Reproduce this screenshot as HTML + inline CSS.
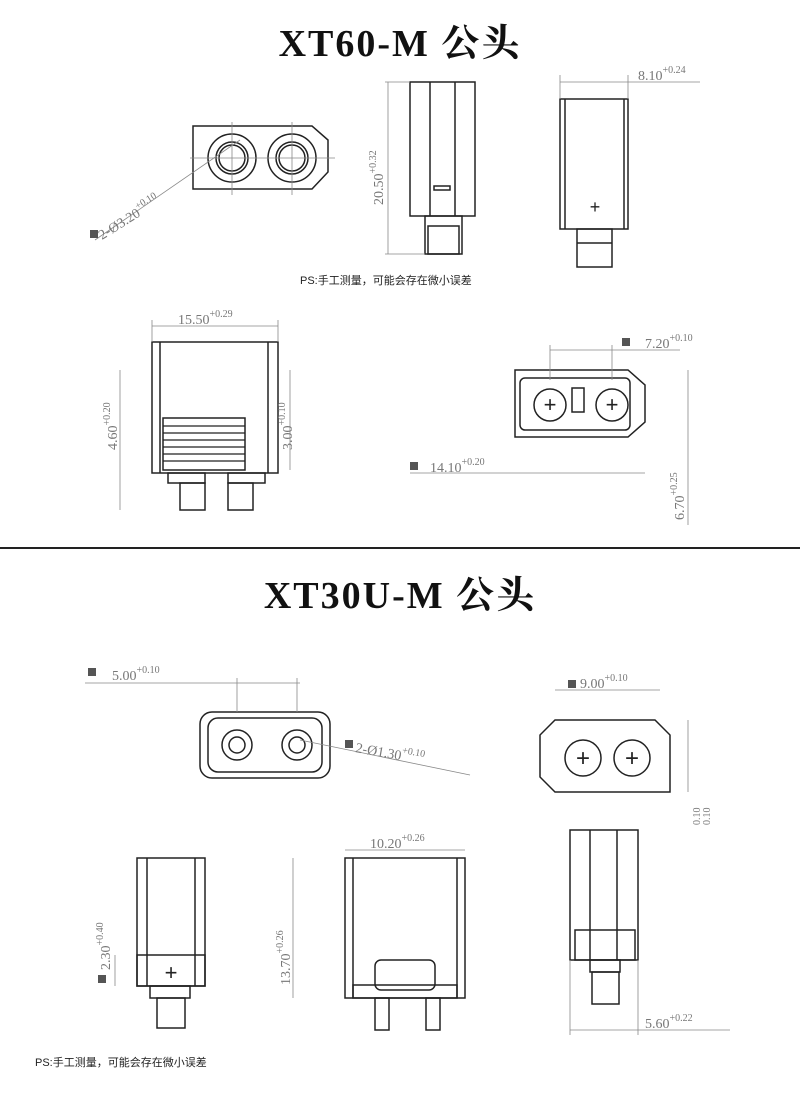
<!DOCTYPE html>
<html><head><meta charset="utf-8"><style>
body{margin:0;background:#fff}
svg{display:block}
.t{font-family:"Liberation Serif","Noto Serif CJK SC",serif;font-weight:bold;font-size:38px;fill:#111;letter-spacing:2px}
.d{font-family:"Liberation Serif",serif;font-size:14px;fill:#777}
.s{font-family:"Liberation Serif",serif;font-size:10px;fill:#777}
.ps{font-family:"Liberation Sans","Noto Sans CJK SC",sans-serif;font-size:11px;fill:#222}
.k{fill:none;stroke:#222;stroke-width:1.5}
.g{fill:none;stroke:#888;stroke-width:0.8}
</style></head><body>
<svg width="800" height="1099" viewBox="0 0 800 1099">
<text class="t" x="400" y="56" text-anchor="middle">XT60-M 公头</text>
<!-- front view 1 -->
<path class="k" d="M193,126 H312 L328,140 V172 L312,189 H193 Z"/>
<circle class="k" cx="232" cy="158" r="24"/><circle class="k" cx="232" cy="158" r="16"/><circle class="k" cx="232" cy="158" r="13"/>
<circle class="k" cx="292" cy="158" r="24"/><circle class="k" cx="292" cy="158" r="16"/><circle class="k" cx="292" cy="158" r="13"/>
<line class="g" x1="190" y1="158" x2="335" y2="158"/><line class="g" x1="232" y1="122" x2="232" y2="195"/><line class="g" x1="292" y1="122" x2="292" y2="195"/>
<line class="g" x1="95" y1="240" x2="240" y2="140"/>
<rect x="90" y="230" width="8" height="8" fill="#555"/>
<text class="d" transform="translate(102,240) rotate(-32)">2-Ø3.20<tspan class="s" dy="-7">+0.10</tspan></text>
<!-- side view -->
<rect class="k" x="410" y="82" width="65" height="134"/><line class="k" x1="430" y1="82" x2="430" y2="216"/><line class="k" x1="455" y1="82" x2="455" y2="216"/>
<rect class="k" x="434" y="186" width="16" height="4"/>
<rect class="k" x="425" y="216" width="37" height="38"/><rect class="k" x="428" y="226" width="31" height="28"/>
<line class="g" x1="388" y1="82" x2="388" y2="254"/><line class="g" x1="385" y1="82" x2="410" y2="82"/><line class="g" x1="385" y1="254" x2="425" y2="254"/>
<text class="d" transform="translate(383,205) rotate(-90)">20.50<tspan class="s" dy="-7">+0.32</tspan></text>
<!-- right view -->
<rect class="k" x="560" y="99" width="68" height="130"/><line class="k" x1="565" y1="99" x2="565" y2="229"/><line class="k" x1="624" y1="99" x2="624" y2="229"/>
<text x="595" y="213" font-size="18" text-anchor="middle" fill="#222" font-family="Liberation Sans">+</text>
<rect class="k" x="577" y="229" width="35" height="38"/><line class="k" x1="577" y1="243" x2="612" y2="243"/>
<line class="g" x1="560" y1="82" x2="700" y2="82"/><line class="g" x1="560" y1="75" x2="560" y2="99"/><line class="g" x1="628" y1="75" x2="628" y2="99"/>
<text class="d" x="638" y="80">8.10<tspan class="s" dy="-7">+0.24</tspan></text>
<text class="ps" x="300" y="284">PS:手工测量，可能会存在微小误差</text>
<!-- bottom left body -->
<rect class="k" x="152" y="342" width="126" height="131"/><line class="k" x1="160" y1="342" x2="160" y2="473"/><line class="k" x1="268" y1="342" x2="268" y2="473"/>
<rect class="k" x="163" y="418" width="82" height="52"/>
<g stroke="#222" stroke-width="1.3"><line x1="163" y1="426" x2="245" y2="426"/><line x1="163" y1="433" x2="245" y2="433"/><line x1="163" y1="440" x2="245" y2="440"/><line x1="163" y1="447" x2="245" y2="447"/><line x1="163" y1="454" x2="245" y2="454"/><line x1="163" y1="461" x2="245" y2="461"/></g>
<rect class="k" x="168" y="473" width="37" height="10"/><rect class="k" x="180" y="483" width="25" height="27"/>
<rect class="k" x="228" y="473" width="37" height="10"/><rect class="k" x="228" y="483" width="25" height="27"/>
<line class="g" x1="152" y1="326" x2="278" y2="326"/><line class="g" x1="152" y1="320" x2="152" y2="342"/><line class="g" x1="278" y1="320" x2="278" y2="342"/>
<text class="d" x="178" y="324">15.50<tspan class="s" dy="-7">+0.29</tspan></text>
<line class="g" x1="120" y1="370" x2="120" y2="510"/><text class="d" transform="translate(117,450) rotate(-90)">4.60<tspan class="s" dy="-7">+0.20</tspan></text>
<line class="g" x1="290" y1="370" x2="290" y2="470"/><text class="d" transform="translate(292,450) rotate(-90)">3.00<tspan class="s" dy="-7">+0.10</tspan></text>
<!-- bottom right top view -->
<path class="k" d="M515,370 H628 L645,385 V422 L628,437 H515 Z"/>
<rect class="k" x="520" y="378" width="110" height="52" rx="5"/>
<circle class="k" cx="550" cy="405" r="16"/><circle class="k" cx="612" cy="405" r="16"/>
<text x="550" y="412" font-size="22" text-anchor="middle" fill="#222" font-family="Liberation Sans">+</text>
<text x="612" y="412" font-size="22" text-anchor="middle" fill="#222" font-family="Liberation Sans">+</text>
<rect class="k" x="572" y="388" width="12" height="24"/>
<line class="g" x1="550" y1="350" x2="680" y2="350"/><line class="g" x1="550" y1="345" x2="550" y2="380"/><line class="g" x1="612" y1="345" x2="612" y2="380"/>
<rect x="622" y="338" width="8" height="8" fill="#555"/><text class="d" x="645" y="348">7.20<tspan class="s" dy="-7">+0.10</tspan></text>
<line class="g" x1="410" y1="473" x2="645" y2="473"/><rect x="410" y="462" width="8" height="8" fill="#555"/><text class="d" x="430" y="472">14.10<tspan class="s" dy="-7">+0.20</tspan></text>
<line class="g" x1="688" y1="370" x2="688" y2="525"/><text class="d" transform="translate(684,520) rotate(-90)">6.70<tspan class="s" dy="-7">+0.25</tspan></text>
<line x1="0" y1="548" x2="800" y2="548" stroke="#222" stroke-width="2"/>
<text class="t" x="400" y="608" text-anchor="middle">XT30U-M 公头</text>
<!-- XT30 front -->
<rect class="k" x="200" y="712" width="130" height="66" rx="12"/><rect class="k" x="208" y="718" width="114" height="54" rx="10"/>
<circle class="k" cx="237" cy="745" r="15"/><circle class="k" cx="237" cy="745" r="8"/>
<circle class="k" cx="297" cy="745" r="15"/><circle class="k" cx="297" cy="745" r="8"/>
<line class="g" x1="85" y1="683" x2="300" y2="683"/><line class="g" x1="237" y1="678" x2="237" y2="712"/><line class="g" x1="297" y1="678" x2="297" y2="712"/>
<rect x="88" y="668" width="8" height="8" fill="#555"/><text class="d" x="112" y="680">5.00<tspan class="s" dy="-7">+0.10</tspan></text>
<line class="g" x1="300" y1="740" x2="470" y2="775"/><rect x="345" y="740" width="8" height="8" fill="#555"/>
<text class="d" transform="translate(355,752) rotate(10)">2-Ø1.30<tspan class="s" dy="-7">+0.10</tspan></text>
<!-- XT30 right -->
<path class="k" d="M555,720 H655 L670,735 V792 H555 L540,777 V735 Z"/>
<circle class="k" cx="583" cy="758" r="18"/><circle class="k" cx="632" cy="758" r="18"/>
<text x="583" y="766" font-size="24" text-anchor="middle" fill="#222" font-family="Liberation Sans">+</text>
<text x="632" y="766" font-size="24" text-anchor="middle" fill="#222" font-family="Liberation Sans">+</text>
<line class="g" x1="555" y1="690" x2="660" y2="690"/><rect x="568" y="680" width="8" height="8" fill="#555"/>
<text class="d" x="580" y="688">9.00<tspan class="s" dy="-7">+0.10</tspan></text>
<line class="g" x1="688" y1="720" x2="688" y2="792"/><text class="s" transform="translate(700,825) rotate(-90)">0.10</text><text class="s" transform="translate(710,825) rotate(-90)">0.10</text>
<!-- bottom left -->
<rect class="k" x="137" y="858" width="68" height="128"/><line class="k" x1="147" y1="858" x2="147" y2="986"/><line class="k" x1="195" y1="858" x2="195" y2="986"/>
<rect class="k" x="137" y="955" width="68" height="31"/>
<text x="171" y="980" font-size="22" text-anchor="middle" fill="#222" font-family="Liberation Sans">+</text>
<rect class="k" x="150" y="986" width="40" height="12"/><rect class="k" x="157" y="998" width="28" height="30"/>
<line class="g" x1="115" y1="955" x2="115" y2="986"/><rect x="98" y="975" width="8" height="8" fill="#555"/>
<text class="d" transform="translate(110,970) rotate(-90)">2.30<tspan class="s" dy="-7">+0.40</tspan></text>
<!-- bottom middle -->
<rect class="k" x="345" y="858" width="120" height="140"/><line class="k" x1="353" y1="858" x2="353" y2="998"/><line class="k" x1="457" y1="858" x2="457" y2="998"/>
<rect class="k" x="375" y="960" width="60" height="30" rx="6"/>
<rect class="k" x="353" y="985" width="104" height="13"/>
<rect class="k" x="375" y="998" width="14" height="32"/><rect class="k" x="426" y="998" width="14" height="32"/>
<line class="g" x1="345" y1="850" x2="465" y2="850"/><text class="d" x="370" y="848">10.20<tspan class="s" dy="-7">+0.26</tspan></text>
<line class="g" x1="293" y1="858" x2="293" y2="998"/><text class="d" transform="translate(290,985) rotate(-90)">13.70<tspan class="s" dy="-7">+0.26</tspan></text>
<!-- bottom right -->
<rect class="k" x="570" y="830" width="68" height="130"/><line class="k" x1="590" y1="830" x2="590" y2="960"/><line class="k" x1="617" y1="830" x2="617" y2="960"/>
<rect class="k" x="575" y="930" width="60" height="30"/><rect class="k" x="590" y="960" width="30" height="12"/>
<rect class="k" x="592" y="972" width="27" height="32"/>
<line class="g" x1="570" y1="1030" x2="730" y2="1030"/><line class="g" x1="570" y1="960" x2="570" y2="1035"/><line class="g" x1="638" y1="960" x2="638" y2="1035"/>
<text class="d" x="645" y="1028">5.60<tspan class="s" dy="-7">+0.22</tspan></text>
<text class="ps" x="35" y="1066">PS:手工测量，可能会存在微小误差</text>
</svg>
</body></html>
